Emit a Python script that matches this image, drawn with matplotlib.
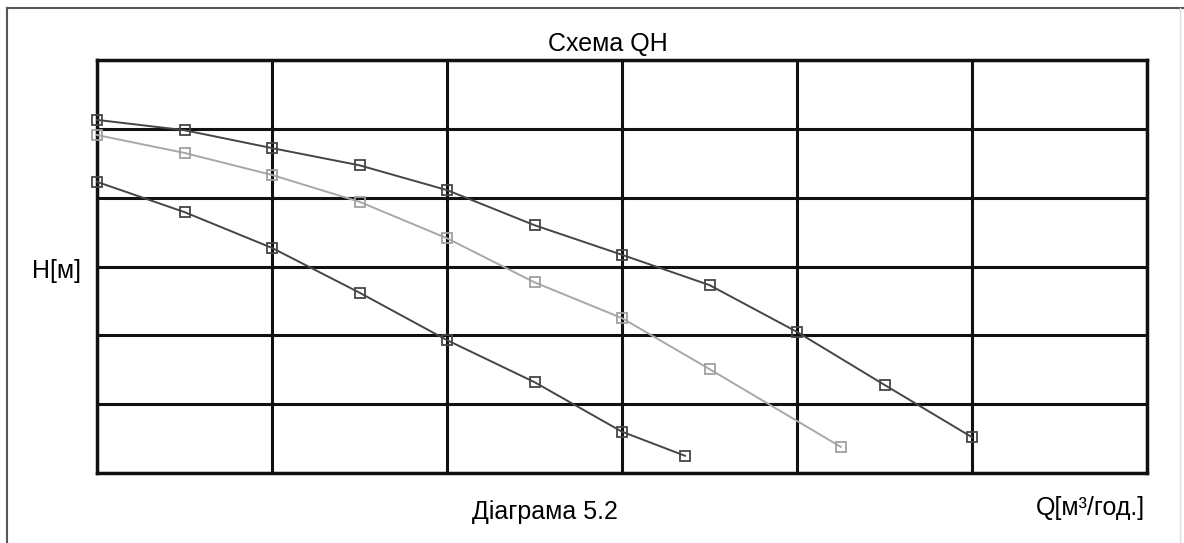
import matplotlib
matplotlib.use("Agg")
import matplotlib.pyplot as plt
from matplotlib.lines import Line2D

plt.rcParams['font.family'] = ['Liberation Sans', 'DejaVu Sans']

# Data (grid units: x 0..6 columns, y 0..6 rows)
q1 = [0, 0.5, 1, 1.5, 2, 2.5, 3, 3.5, 4, 4.5, 5]
h1 = [5.13, 4.98, 4.72, 4.47, 4.11, 3.60, 3.17, 2.73, 2.05, 1.28, 0.52]
q2 = [0, 0.5, 1, 1.5, 2, 2.5, 3, 3.5, 4.25]
h2 = [4.91, 4.65, 4.33, 3.94, 3.41, 2.77, 2.25, 1.51, 0.38]
q3 = [0, 0.5, 1, 1.5, 2, 2.5, 3, 3.36]
h3 = [4.23, 3.79, 3.27, 2.62, 1.93, 1.32, 0.60, 0.25]

title = "Схема QH"
ylabel = "H[м]"
xlabel = "Q[м³/год.]"
caption = "Діаграма 5.2"

W, H = 1184, 543
fig = plt.figure(figsize=(W / 100, H / 100), dpi=100)
ax = fig.add_axes([97 / W, 1 - 473 / H, (1147 - 97) / W, (473 - 60) / H])
ax.set_xlim(0, 6)
ax.set_ylim(0, 6)
ax.set_xticks(range(7))
ax.set_yticks(range(7))
ax.tick_params(length=0, labelbottom=False, labelleft=False)
ax.grid(True, color='#111111', linewidth=2.2)
ax.set_axisbelow(True)
for s in ax.spines.values():
    s.set_linewidth(2.5)
    s.set_color('#111111')

ms = 7.5
ax.plot(q1, h1, color='#454545', lw=1.4, marker='s', ms=ms, mfc='none',
        mec='#454545', mew=1.3, clip_on=False, zorder=3)
ax.plot(q2, h2, color='#a8a8a8', lw=1.4, marker='s', ms=ms, mfc='none',
        mec='#a0a0a0', mew=1.3, clip_on=False, zorder=3)
ax.plot(q3, h3, color='#454545', lw=1.4, marker='s', ms=ms, mfc='none',
        mec='#454545', mew=1.3, clip_on=False, zorder=3)

fs = 18
fig.text(608 / W, 1 - 44 / H, title, ha='center', va='center', fontsize=fs)
fig.text(56 / W, 1 - 271 / H, ylabel, ha='center', va='center', fontsize=fs)
fig.text(545 / W, 1 - 512 / H, caption, ha='center', va='center', fontsize=fs)
fig.text(1090 / W, 1 - 508 / H, xlabel, ha='center', va='center', fontsize=fs)

# outer frame
fig.add_artist(Line2D([7 / W, 7 / W], [1 - 8 / H, 0], color='#555555', lw=1.5))
fig.add_artist(Line2D([7 / W, 1], [1 - 8 / H, 1 - 8 / H], color='#555555', lw=1.5))
fig.add_artist(Line2D([1180 / W, 1180 / W], [1 - 8 / H, 0], color='#dddddd', lw=1.0))

fig.savefig('out.png', dpi=100)
